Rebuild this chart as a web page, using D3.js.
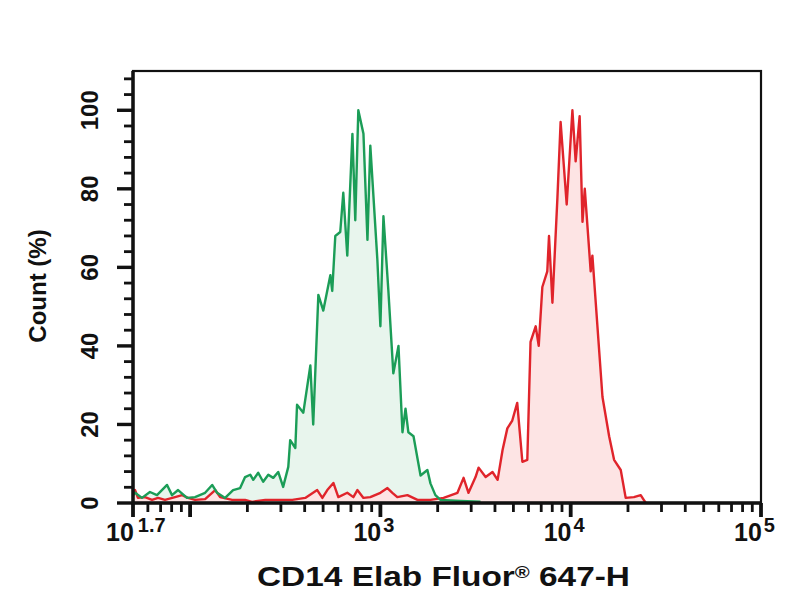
<!DOCTYPE html>
<html>
<head>
<meta charset="utf-8">
<style>
  body { margin: 0; background: #fff; }
  text { font-family: "Liberation Sans", Arial, sans-serif; font-weight: bold; fill: #111; }
</style>
</head>
<body>
<div id="histogram"></div>
<script src="https://d3js.org/d3.v7.min.js"></script>
<script>
// histogram channels: log10 of fluorescence, and % of max count
var greenLog = [1.70, 1.711, 1.747, 1.789, 1.826, 1.879, 1.905, 1.937, 1.984, 2.026, 2.079, 2.116, 2.142, 2.184, 2.226, 2.263,
  2.289, 2.316, 2.332, 2.358, 2.384, 2.411, 2.437, 2.463, 2.489, 2.516, 2.526, 2.553, 2.562, 2.595, 2.632, 2.647,
  2.674, 2.700, 2.737, 2.747, 2.763, 2.789, 2.805, 2.826, 2.853, 2.868, 2.884, 2.911, 2.932, 2.947, 2.984, 3.000,
  3.016, 3.042, 3.068, 3.095, 3.116, 3.132, 3.147, 3.174, 3.211, 3.247, 3.263, 3.289, 3.316, 3.421, 3.526];
var greenPct = [2.0, 2.6, 1.3, 2.8, 2.0, 4.6, 2.0, 3.3, 1.3, 1.5, 2.6, 4.6, 2.6, 1.3, 3.3, 3.8,
  6.6, 7.2, 5.9, 7.7, 5.4, 7.2, 6.4, 7.9, 4.1, 9.2, 16, 14, 25, 23, 35, 20,
  53, 49, 58, 54, 68, 69, 79, 63, 94, 72, 100, 94, 67, 91, 62, 45,
  73, 54, 33, 40, 18, 24, 18, 17, 7, 8.4, 5, 2, 0.8, 0.5, 0.3];

var redLog = [1.70, 1.711, 1.726, 1.763, 1.800, 1.832, 1.868, 1.921, 1.958, 1.989, 2.026, 2.079, 2.132, 2.158, 2.221, 2.289,
  2.326, 2.395, 2.463, 2.537, 2.605, 2.668, 2.695, 2.721, 2.753, 2.779, 2.826, 2.858, 2.879, 2.911, 2.947, 3.000,
  3.037, 3.063, 3.089, 3.142, 3.195, 3.263, 3.332, 3.405, 3.437, 3.463, 3.500, 3.516, 3.553, 3.589, 3.616, 3.642,
  3.667, 3.693, 3.719, 3.746, 3.772, 3.789, 3.816, 3.832, 3.851, 3.877, 3.886, 3.904, 3.930, 3.947, 3.979, 4.009,
  4.026, 4.047, 4.062, 4.074, 4.105, 4.114, 4.167, 4.202, 4.228, 4.263, 4.289, 4.332, 4.368, 4.384, 4.395];
var redPct = [2.0, 3.3, 1.3, 1.5, 0.8, 1.3, 0.8, 1.5, 2.0, 1.3, 0.8, 1.0, 3.3, 1.5, 0.8, 0.8,
  0.3, 0.8, 0.8, 0.8, 1.3, 3.3, 1.3, 3.3, 5.1, 1.5, 2.6, 1.5, 3.3, 1.3, 1.5, 2.6,
  3.8, 2.6, 1.5, 2.0, 0.8, 0.8, 1.3, 2.6, 6.4, 2.6, 6.6, 9.0, 6.6, 7.9, 5.9, 13.5,
  19, 21, 25.5, 10.5, 11, 41, 45, 40, 55, 59, 68, 51, 77.5, 97, 76, 100,
  87, 98.5, 71.6, 80, 59, 63, 27, 17, 11, 8.4, 1.3, 1.5, 2.0, 0.8, 0];

var xTickExp = [1.7, 3, 4, 5];
var xTickSup = ["1.7", "3", "4", "5"];
var yTicks = [0, 20, 40, 60, 80, 100];
var xTitle = "CD14 Elab Fluor";
var xTitleSup = "\u00AE";
var xTitleEnd = " 647-H";
var yTitle = "Count (%)";

var margin = { top: 71, right: 43, bottom: 97, left: 133 },
    width = 804 - margin.left - margin.right,
    height = 600 - margin.top - margin.bottom;

var svg = d3.select("#histogram").append("svg")
    .attr("width", 804)
    .attr("height", 600);

var g = svg.append("g").attr("transform", "translate(" + margin.left + "," + margin.top + ")");

var x = d3.scaleLog()
    .domain([Math.pow(10, 1.7), 1e5])
    .range([0, width]);

var y = d3.scaleLinear()
    .domain([0, 110])
    .range([height, 0]);

var xMajor = [Math.pow(10, 1.7), 100, 1000, 10000, 100000];
var xMinor = [];
[10, 100, 1000, 10000].forEach(function(p) {
  for (var k = 2; k <= 9; k++) {
    var v = k * p;
    if (v > Math.pow(10, 1.7) && v < 1e5) xMinor.push(v);
  }
});
var yMinor = d3.range(4, 110, 4).filter(function(v) { return v % 20 !== 0; });

// ticks as small filled rects outside the frame
function xTickRects(vals, len, w) {
  g.append("g").selectAll("rect").data(vals).join("rect")
      .attr("x", function(d) { return x(d) - w / 2; })
      .attr("y", height)
      .attr("width", w)
      .attr("height", len)
      .attr("fill", "#111");
}
function yTickRects(vals, len, w) {
  g.append("g").selectAll("rect").data(vals).join("rect")
      .attr("x", -len)
      .attr("y", function(d) { return y(d) - w / 2; })
      .attr("width", len)
      .attr("height", w)
      .attr("fill", "#111");
}
xTickRects(xMinor, 9, 2.8);
xTickRects(xMajor, 14, 3.8);
yTickRects(yMinor, 9, 2.8);
yTickRects(yTicks, 16, 3.4);

function pairs(logs, pcts) {
  return logs.map(function(e, i) { return { e: e, v: pcts[i] }; });
}
var green = pairs(greenLog, greenPct),
    red = pairs(redLog, redPct);

var area = d3.area()
    .x(function(d) { return x(Math.pow(10, d.e)); })
    .y0(height)
    .y1(function(d) { return y(d.v); });

var line = d3.line()
    .x(function(d) { return x(Math.pow(10, d.e)); })
    .y(function(d) { return y(d.v); });

g.append("path").datum(green).attr("fill", "#e8f5ed").attr("d", area);
g.append("path").datum(red).attr("fill", "#fde4e4").attr("d", area);

g.append("path")
    .datum(red)
    .attr("fill", "none")
    .attr("stroke", "#e0242b")
    .attr("stroke-width", 2.4)
    .attr("stroke-linejoin", "round")
    .attr("d", line);

g.append("path")
    .datum(green)
    .attr("fill", "none")
    .attr("stroke", "#1b9d57")
    .attr("stroke-width", 2.4)
    .attr("stroke-linejoin", "round")
    .attr("d", line);

// frame
g.append("rect")
    .attr("width", width)
    .attr("height", height)
    .attr("fill", "none")
    .attr("stroke", "#111")
    .attr("stroke-width", 2.2);
g.append("path")
    .attr("d", "M0,0V" + height + "H" + width)
    .attr("fill", "none")
    .attr("stroke", "#111")
    .attr("stroke-width", 3.5);

// x tick labels 10^n
xTickExp.forEach(function(e, i) {
  var t = g.append("text")
      .attr("x", x(Math.pow(10, e)) - 27)
      .attr("y", height + 38)
      .attr("font-size", 25);
  t.append("tspan").text("10");
  t.append("tspan")
      .attr("dx", i === 0 ? 4 : 2)
      .attr("dy", -9)
      .attr("font-size", 20)
      .text(xTickSup[i]);
});

// y tick labels, rotated
yTicks.forEach(function(v) {
  g.append("text")
      .attr("transform", "translate(-35," + y(v) + ") rotate(-90)")
      .attr("text-anchor", "middle")
      .attr("font-size", 24)
      .text(v);
});

svg.append("text")
    .attr("transform", "translate(46," + 286 + ") rotate(-90)")
    .attr("text-anchor", "middle")
    .attr("font-size", 24)
    .text(yTitle);

var tt = svg.append("text")
    .attr("x", 257)
    .attr("y", 586)
    .attr("font-size", 28)
    .attr("textLength", 373)
    .attr("lengthAdjust", "spacingAndGlyphs");
tt.append("tspan").text(xTitle);
tt.append("tspan").attr("dy", -8).attr("font-size", 17).text(xTitleSup);
tt.append("tspan").attr("dy", 8).text(xTitleEnd);
</script>
</body>
</html>
